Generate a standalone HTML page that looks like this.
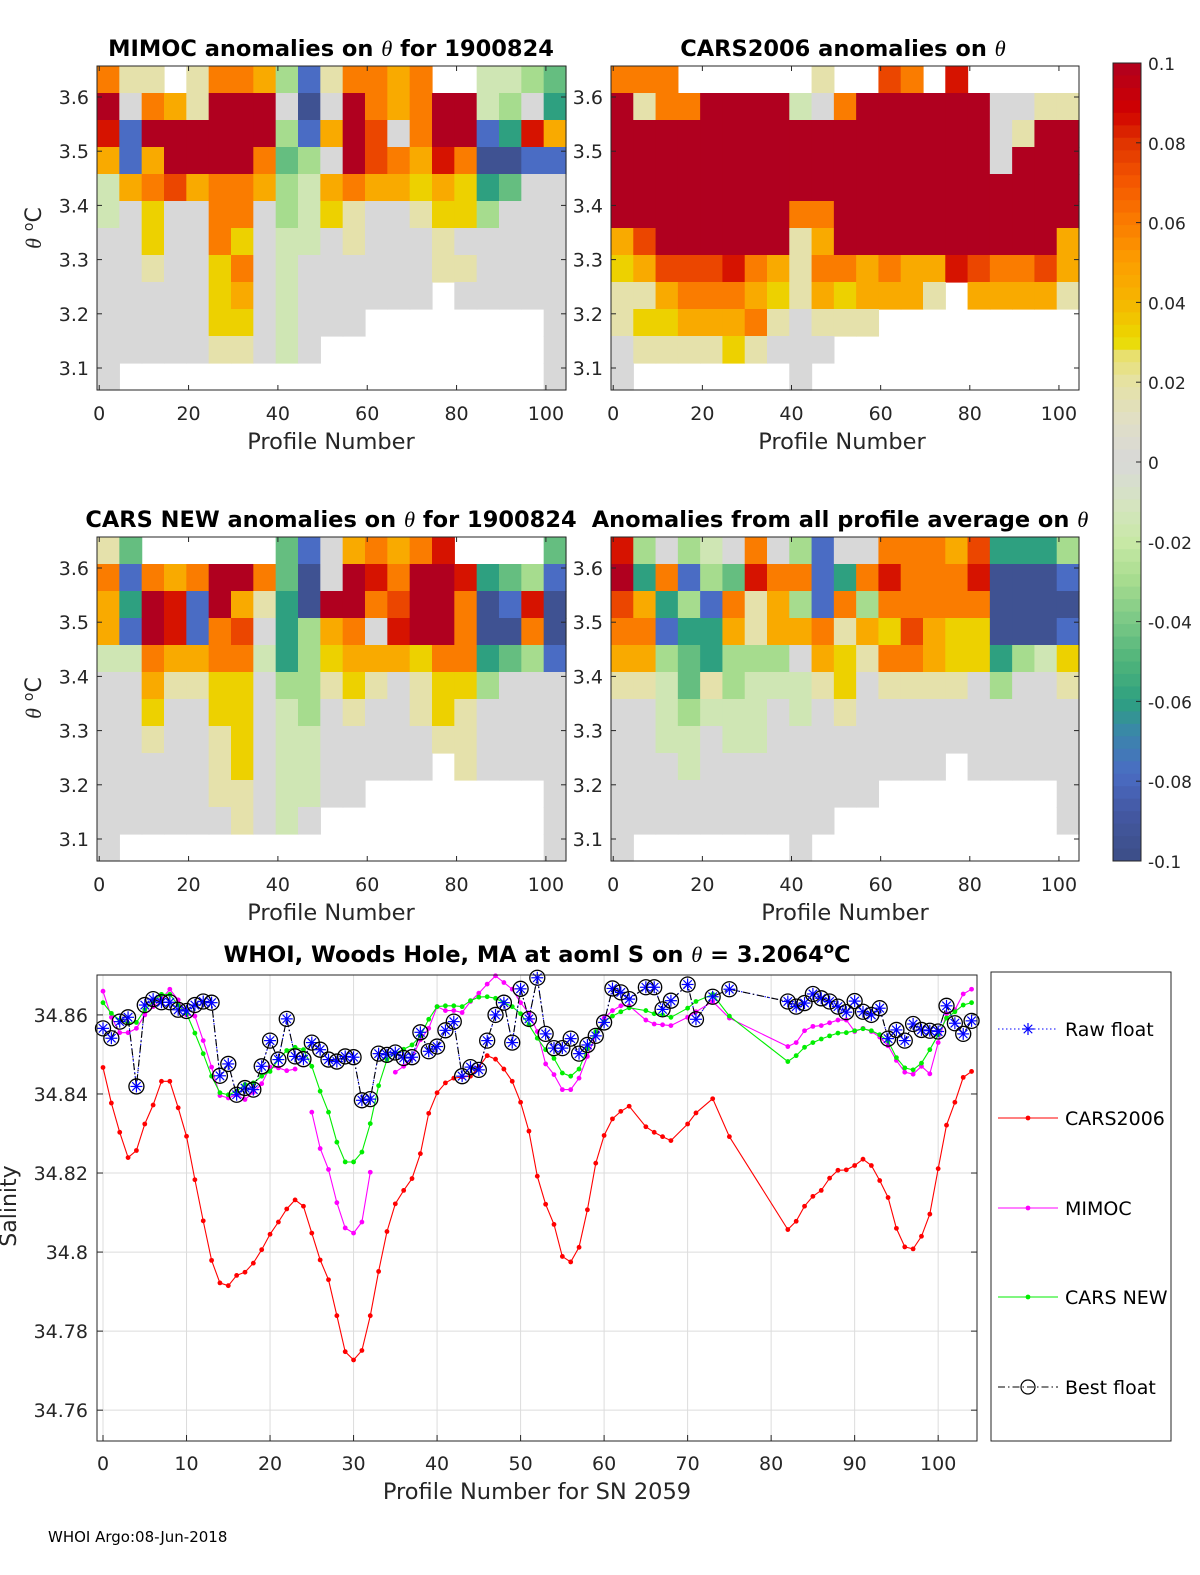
<!DOCTYPE html>
<html><head><meta charset="utf-8"><style>
html,body{margin:0;padding:0;background:#fff;}
svg{display:block;font-family:"DejaVu Sans","Liberation Sans",sans-serif;}
</style></head><body>
<svg id="fig" width="1200" height="1575" viewBox="0 0 1200 1575" xmlns="http://www.w3.org/2000/svg"></svg>
<script>
// ===== Heatmap data: 12 theta rows (top→bottom), 21 blocks of 5 profiles =====
const levelChars = ['R','r','o','O','y','Y','l','g','p','G','m','t','b','n'];
const levelValues = [0.1,0.085,0.075,0.06,0.045,0.033,0.018,0,-0.015,-0.03,-0.045,-0.06,-0.078,-0.095];
const mimocRows = [
"Oll.lOOyGblOOyO..ppGm","RgOylRRRgngROyORRpGgt","rbRRRRRRGbyRogORRbtry","ybyRRRROmGgRoOyrOnnbb",
"pyOoyOOyGpyOyyYyYtmgg","pgYggOOgGpYlgglYYGggg","ggYggOYgppglggglggggg","gglggYOgpggggggllgggg",
"gggggYygpgggggg.ggggg","gggggYYgpggg........g","gggggllgpg..........g","g...................g"];
const cars2006Rows = [
"OOO......l..oO.r.....","RlOORRRRpgORRRRRRggll","RRRRRRRRRRRRRRRRRglRR","RRRRRRRRRRRRRRRRRgRRR",
"RRRRRRRRRRRRRRRRRRRRR","RRRRRRRROORRRRRRRRRRR","yoRRRRRRlyRRRRRRRRRRy","YyooorOylOOyOyyroOOoy",
"llyOOOyYlyYyyyl.yyyyl","lYYyyyOlglll.........","gllllYlggg...........","g.......g............"];
const carsNewRows = [
"lm......mbgyOyOr....m","ObOyORROmngRrORRrtmGb","ytRrbRyltnRROoRROnbrn","ybRrbOogtGyOgrRROnnOn",
"ppOyyOOptGYyyyYOOtmGb","ggyllYYgGGlYlglYYGggg","ggYggYYgpGglgglYlgggg","gglgglYgppgggggllgggg",
"ggggglYgppggggg.lgggg","gggggllgppgg........g","gggggglgpg..........g","g...................g"];
const allAvgRows = [
"rGgGpgOgGbggOOOyotttG","RtObGmrOObtOrOOOrnnnb","oytGbOlyGbOGOOOOOnnnn","OObttylyyOlyYoyYYnnnb",
"yyGmtGGGgyYlOOyYYtGpY","llpmlGppplYgllllgGggl","ggpGpppgpglgggggggggg","ggppgppgggggggggggggg",
"gggpggggggggggg.ggggg","gggggggggggg........g","gggggggggg..........g","g.......g............"];
const heatXTicks = [0,20,40,60,80,100];
const heatYTicks = [3.1,3.2,3.3,3.4,3.5,3.6];
const cbarTicks = [0.1,0.08,0.06,0.04,0.02,0,-0.02,-0.04,-0.06,-0.08,-0.1];
const cbarLabels = ["0.1","0.08","0.06","0.04","0.02","0","-0.02","-0.04","-0.06","-0.08","-0.1"];

// ===== Salinity chart data =====
const mainProfiles = [0,1,2,3,4,5,6,7,8,9,10,11,12,13,14,15,16,17,18,19,20,21,22,23,24,25,26,27,28,29,30,31,32,33,34,35,36,37,38,39,40,41,42,43,44,45,46,47,48,49,50,51,52,53,54,55,56,57,58,59,60,61,62,63,65,66,67,68,70,71,73,75,82,83,84,85,86,87,88,89,90,91,92,93,94,95,96,97,98,99,100,101,102,103,104];
const cars2006 = [34.8467,34.8377,34.8303,34.8239,34.8257,34.8324,34.8372,34.8432,34.8432,34.8365,
34.8293,34.8183,34.8079,34.7979,34.7922,34.7915,34.7941,34.7949,34.7972,34.8006,
34.8045,34.8076,34.8109,34.8132,34.8116,34.8048,34.7980,34.7930,34.7839,34.7748,
34.7727,34.7751,34.7839,34.7951,34.8052,34.8122,34.8156,34.8186,34.8249,34.8351,
34.8403,34.8428,34.8440,34.8443,34.8445,34.8468,34.8497,34.8488,34.8463,34.8432,
34.8379,34.8306,34.8192,34.8121,34.8070,34.7989,34.7975,34.8012,34.8107,34.8225,
34.8295,34.8337,34.8356,34.8369,34.8317,34.8303,34.8292,34.8282,34.8324,34.8352,34.8388,34.8292,
34.8057,34.8078,34.8116,34.8141,34.8156,34.8187,34.8207,34.8208,34.8219,34.8235,34.8219,34.8181,34.8138,34.8060,34.8013,34.8008,34.8040,34.8096,34.8211,34.8321,34.8379,34.8442,34.8457];
const carsNew = [34.8631,34.8604,34.8587,34.8579,34.8581,34.8613,34.8634,34.8652,34.8652,34.8625,
34.8604,34.8554,34.8502,34.8445,34.8403,34.8398,34.8407,34.8424,34.8428,34.8445,
34.8457,34.8487,34.8510,34.8518,34.8512,34.8470,34.8407,34.8354,34.8278,34.8228,
34.8228,34.8253,34.8325,34.8421,34.8487,34.8503,34.8513,34.8524,34.8547,34.8589,
34.8621,34.8623,34.8623,34.8621,34.8636,34.8645,34.8646,34.8642,34.8631,34.8621,
34.8603,34.8575,34.8541,34.8512,34.8490,34.8453,34.8445,34.8463,34.8514,34.8558,
34.8583,34.8597,34.8608,34.8618,34.8611,34.8603,34.8600,34.8594,34.8617,34.8634,34.8652,34.8597,
34.8482,34.8497,34.8518,34.8530,34.8539,34.8547,34.8554,34.8555,34.8560,34.8565,34.8560,34.8550,34.8534,34.8492,34.8466,34.8461,34.8478,34.8512,34.8550,34.8592,34.8608,34.8625,34.8631];
const bestFloat = [34.8566,34.8541,34.8583,34.8594,34.8419,34.8625,34.8640,34.8632,34.8632,34.8613,
34.8610,34.8625,34.8634,34.8631,34.8446,34.8476,34.8398,34.8415,34.8411,34.8470,
34.8535,34.8487,34.8590,34.8495,34.8488,34.8530,34.8512,34.8487,34.8482,34.8495,
34.8493,34.8384,34.8387,34.8502,34.8499,34.8505,34.8491,34.8493,34.8556,34.8508,
34.8520,34.8561,34.8583,34.8445,34.8468,34.8461,34.8535,34.8600,34.8631,34.8530,
34.8666,34.8590,34.8694,34.8552,34.8516,34.8516,34.8540,34.8502,34.8524,34.8547,
34.8581,34.8667,34.8657,34.8640,34.8670,34.8670,34.8614,34.8636,34.8677,34.8589,34.8646,34.8665,
34.8634,34.8621,34.8630,34.8653,34.8642,34.8634,34.8621,34.8607,34.8635,34.8608,34.8600,34.8617,34.8540,34.8562,34.8535,34.8577,34.8562,34.8560,34.8558,34.8623,34.8579,34.8552,34.8585];
const rawFloat = bestFloat;
const mimocProfiles = [0,1,2,3,4,5,6,7,8,9,10,11,12,13,14,15,16,17,18,19,20,21,22,23,25,26,27,28,29,30,31,32,35,36,37,38,39,40,41,42,43,44,45,46,47,48,49,50,51,52,53,54,55,56,57,58,59,60,61,62,63,65,66,67,68,70,71,73,75,82,83,84,85,86,87,88,89,90,91,92,93,94,95,96,97,98,99,100,101,102,103,104];
const mimoc = [34.8660,34.8594,34.8555,34.8555,34.8566,34.8600,34.8621,34.8640,34.8665,34.8638,
34.8600,34.8597,34.8535,34.8468,34.8396,34.8390,34.8398,34.8386,34.8404,34.8426,34.8468,34.8466,34.8459,34.8463,
34.8354,34.8262,34.8209,34.8125,34.8061,34.8048,34.8076,34.8202,
34.8455,34.8470,34.8491,34.8537,34.8566,34.8621,34.8611,34.8611,34.8606,34.8634,34.8655,34.8678,34.8699,34.8682,34.8665,34.8631,34.8604,34.8558,
34.8476,34.8449,34.8411,34.8411,34.8440,34.8495,34.8550,34.8592,34.8611,34.8623,34.8623,
34.8587,34.8577,34.8575,34.8573,34.8594,34.8608,34.8634,34.8592,
34.8520,34.8530,34.8560,34.8571,34.8573,34.8580,34.8587,34.8587,34.8558,34.8566,34.8558,34.8544,34.8522,34.8485,34.8455,34.8450,34.8470,34.8451,34.8530,34.8603,34.8613,34.8653,34.8665];
const salXTicks = [0,10,20,30,40,50,60,70,80,90,100];
const salYTicks = [34.76,34.78,34.80,34.82,34.84,34.86];
const salYLabels = ["34.76","34.78","34.8","34.82","34.84","34.86"];
const legendLabels = ["Raw float","CARS2006","MIMOC","CARS NEW","Best float"];

// ===== helpers =====
const NS = "http://www.w3.org/2000/svg";
const svg = document.getElementById('fig');
function mk(tag, attrs, parent){
  const e = document.createElementNS(NS, tag);
  for (const k in attrs) e.setAttribute(k, attrs[k]);
  (parent||svg).appendChild(e);
  return e;
}
const cmapStops = [[0.1,'#b0001f'],[0.088,'#d00000'],[0.08,'#e03400'],[0.07,'#f55800'],[0.06,'#fa7c00'],[0.05,'#fc9e00'],[0.04,'#f5b600'],[0.03,'#eadc00'],[0.027,'#e8e06a'],[0.02,'#e6e2a4'],[0.01,'#e0dfc6'],[0,'#d8d8d8'],[-0.01,'#d6e4c2'],[-0.02,'#c8e8a6'],[-0.03,'#a6dc8e'],[-0.04,'#7ac886'],[-0.05,'#4fb47a'],[-0.06,'#2ea080'],[-0.068,'#3a86aa'],[-0.078,'#4a6cc4'],[-0.088,'#4458a2'],[-0.1,'#3c4e86']];
function hex(h){return [parseInt(h.substr(1,2),16),parseInt(h.substr(3,2),16),parseInt(h.substr(5,2),16)];}
function cmap(v){
  if (v>=cmapStops[0][0]) return cmapStops[0][1];
  for (let i=0;i<cmapStops.length-1;i++){
    const a=cmapStops[i], b=cmapStops[i+1];
    if (v<=a[0] && v>=b[0]){
      const t=(a[0]-v)/(a[0]-b[0]); const ca=hex(a[1]), cb=hex(b[1]);
      return 'rgb('+ca.map((c,j)=>Math.round(c+(cb[j]-c)*t)).join(',')+')';
    }
  }
  return cmapStops[cmapStops.length-1][1];
}

// ===== heatmap panel =====
function heatPanel(name, rows, x0, x1, y0, y1, title, titleX, xLabelX){
  const pmin=-0.5, pmax=104.5;
  const sx = p => x0 + (p-pmin)/(pmax-pmin)*(x1-x0);
  const topV = 3.6 + 31/542;
  const sy = v => y0 + (topV - v)*542;
  const g = mk('g', {});
  
  
  const rowH = (y1-y0)/rows.length;
  rows.forEach((row, ri) => {
    for (let k=0; k<row.length; k++){
      const ch = row[k];
      if (ch === '.') continue;
      const v = levelValues[levelChars.indexOf(ch)];
      const xa = sx(5*k-0.5), xb = sx(Math.min(5*k+4.5, pmax));
      const r = mk('rect', {x:xa.toFixed(2), y:(y0+ri*rowH).toFixed(2), width:(xb-xa+0.6).toFixed(2), height:(rowH+0.6).toFixed(2), fill:cmap(v)}, g);
      
      
    }
  });
  const box = mk('rect', {x:x0, y:y0, width:x1-x0, height:y1-y0, fill:'none', stroke:'#262626', 'stroke-width':1}, g);
  
  
  heatXTicks.forEach(t => {
    const x = sx(t);
    mk('line', {x1:x, x2:x, y1:y1, y2:y1-5, stroke:'#262626'}, g);
    mk('line', {x1:x, x2:x, y1:y0, y2:y0+5, stroke:'#262626'}, g);
    const tx = mk('text', {x:x, y:y1+30, 'font-size':19, 'text-anchor':'middle', fill:'#262626'}, g);
    tx.textContent = t;
    
    
  });
  heatYTicks.forEach(t => {
    const y = sy(t);
    mk('line', {x1:x0, x2:x0+5, y1:y, y2:y, stroke:'#262626'}, g);
    mk('line', {x1:x1, x2:x1-5, y1:y, y2:y, stroke:'#262626'}, g);
    const tx = mk('text', {x:x0-8, y:y+7, 'font-size':19, 'text-anchor':'end', fill:'#262626'}, g);
    tx.textContent = t.toFixed(1);
    
    
  });
  const tt = mk('text', {x:titleX, y:y0-10, 'font-size':22.5, 'font-weight':'bold', 'text-anchor':'middle', fill:'#000'}, g);
  tt.innerHTML = title;
  
  
  const xl = mk('text', {x:xLabelX, y:y1+59, 'font-size':22.5, 'text-anchor':'middle', fill:'#262626'}, g);
  xl.textContent = 'Profile Number';
  
  
}
const th = '<tspan font-style="italic" font-weight="normal" font-family="Liberation Serif, serif">θ</tspan>';
heatPanel('mimoc', mimocRows, 97, 566, 66, 390, 'MIMOC anomalies on '+th+'  for 1900824', 331, 331);
heatPanel('cars2006', cars2006Rows, 611, 1079, 66, 390, 'CARS2006 anomalies on '+th, 843, 842);
heatPanel('carsnew', carsNewRows, 97, 566, 537, 861, 'CARS NEW anomalies on '+th+' for 1900824', 331, 331);
heatPanel('allavg', allAvgRows, 611, 1079, 537, 861, 'Anomalies from all profile average on '+th, 840, 845);

[[228,'y-axis-title-top'],[698,'y-axis-title-middle']].forEach(([cy,nm]) => {
  const t = mk('text', {x:0, y:0, transform:'translate(41,'+cy+') rotate(-90)', 'font-size':22, 'text-anchor':'middle', fill:'#262626'});
  t.innerHTML = '<tspan font-style="italic" font-family="Liberation Serif, serif">θ</tspan> <tspan baseline-shift="super" font-size="14">o</tspan>C';
  
  
});

// ===== colorbar =====
(function(){
  const x0=1113, x1=1141, yTop=63, yBot=861;
  const sy = v => yTop + (0.1 - v)/0.2*(yBot-yTop);
  const g = mk('g', {});
  
  
  const n = 64;
  for (let i=0;i<n;i++){
    const vTop = 0.1 - i*0.2/n, vMid = vTop - 0.1/n;
    mk('rect', {x:x0, y:sy(vTop), width:x1-x0, height:(yBot-yTop)/n+0.5, fill:cmap(vMid)}, g);
  }
  mk('rect', {x:x0, y:yTop, width:x1-x0, height:yBot-yTop, fill:'none', stroke:'#262626'}, g);
  cbarTicks.forEach((t,i) => {
    const y = sy(t);
    mk('line', {x1:x1, x2:x1-5, y1:y, y2:y, stroke:'#262626'}, g);
    const tx = mk('text', {x:1148, y:y+7, 'font-size':17, fill:'#262626'}, g);
    tx.textContent = cbarLabels[i];
    
    
  });
})();

// ===== salinity chart =====
(function(){
  const x0=97, x1=977, y0=975, y1=1441;
  const pmin=-0.72, pmax=104.65, vmax=34.8701, vmin=34.7522;
  const sx = p => x0 + (p-pmin)/(pmax-pmin)*(x1-x0);
  const sy = v => y0 + (vmax - v)/(vmax-vmin)*(y1-y0);
  const g = mk('g', {});
  
  
  salXTicks.forEach(t => {
    const x = sx(t);
    mk('line', {x1:x, x2:x, y1:y0, y2:y1, stroke:'#dcdcdc'}, g);
    mk('line', {x1:x, x2:x, y1:y1, y2:y1-6, stroke:'#262626'}, g);
    const tx = mk('text', {x:x, y:y1+29, 'font-size':19, 'text-anchor':'middle', fill:'#262626'}, g);
    tx.textContent = t;
    
    
  });
  salYTicks.forEach((t,i) => {
    const y = sy(t);
    mk('line', {x1:x0, x2:x1, y1:y, y2:y, stroke:'#dcdcdc'}, g);
    mk('line', {x1:x0, x2:x0+6, y1:y, y2:y, stroke:'#262626'}, g);
    mk('line', {x1:x1, x2:x1-6, y1:y, y2:y, stroke:'#262626'}, g);
    const tx = mk('text', {x:x0-9, y:y+7, 'font-size':19, 'text-anchor':'end', fill:'#262626'}, g);
    tx.textContent = salYLabels[i];
    
    
  });
  function line(xs, vs, color, dash, name){
    const pts = xs.map((p,i)=>sx(p).toFixed(1)+','+sy(vs[i]).toFixed(1)).join(' ');
    const l = mk('polyline', {points:pts, fill:'none', stroke:color, 'stroke-width':1.1, 'stroke-dasharray':dash||'none'}, g);
    
    
  }
  function dots(xs, vs, color, name){
    xs.forEach((p,i)=>{
      const c = mk('circle', {cx:sx(p), cy:sy(vs[i]), r:2.4, fill:color}, g);
      
      
    });
  }
  line(mainProfiles, cars2006, '#ff0000', null, 'cars2006-line');
  dots(mainProfiles, cars2006, '#ff0000', 'cars2006-point');
  const segs = [[0,24],[24,32],[32,mimocProfiles.length]];
  segs.forEach(([a,b]) => line(mimocProfiles.slice(a,b), mimoc.slice(a,b), '#ff00ff', null, 'mimoc-line'));
  dots(mimocProfiles, mimoc, '#ff00ff', 'mimoc-point');
  line(mainProfiles, carsNew, '#00ee00', null, 'cars-new-line');
  dots(mainProfiles, carsNew, '#00ee00', 'cars-new-point');
  line(mainProfiles, rawFloat, '#0000ff', '1.5,2.5', 'raw-float-line');
  line(mainProfiles, bestFloat, '#000000', '7,3,1.5,3', 'best-float-line');
  function star(cx, cy, s, parent){
    for (let a=0;a<4;a++){
      const ang = a*Math.PI/4;
      mk('line', {x1:cx-s*Math.cos(ang), y1:cy-s*Math.sin(ang), x2:cx+s*Math.cos(ang), y2:cy+s*Math.sin(ang), stroke:'#0000ff', 'stroke-width':1.2}, parent);
    }
  }
  mainProfiles.forEach((p,i)=>{
    const cx = sx(p), cy = sy(bestFloat[i]);
    const c = mk('circle', {cx:cx, cy:cy, r:7.5, fill:'none', stroke:'#000', 'stroke-width':1.3}, g);
    
    
    const sg = mk('g', {}, g);
    
    
    star(sx(p), sy(rawFloat[i]), 6, sg);
  });
  const box = mk('rect', {x:x0, y:y0, width:x1-x0, height:y1-y0, fill:'none', stroke:'#262626'}, g);
  
  
  const tt = mk('text', {x:537, y:962, 'font-size':22.5, 'font-weight':'bold', 'text-anchor':'middle', fill:'#000'}, g);
  tt.innerHTML = 'WHOI, Woods Hole, MA at aoml S on '+th+' = 3.2064<tspan baseline-shift="super" font-size="15">o</tspan>C';
  
  
  const xl = mk('text', {x:537, y:1499, 'font-size':22.5, 'text-anchor':'middle', fill:'#262626'}, g);
  xl.textContent = 'Profile Number for SN 2059';
  
  
  const yl = mk('text', {x:0, y:0, transform:'translate(16,1206) rotate(-90)', 'font-size':22, 'text-anchor':'middle', fill:'#262626'}, g);
  yl.textContent = 'Salinity';
  
  

  const lg = mk('g', {});
  
  
  mk('rect', {x:991, y:972, width:180, height:469, fill:'#fff', stroke:'#262626'}, lg);
  const ly = [1029, 1118, 1208, 1297, 1387];
  const styles = [['#0000ff','1.5,2.5'],['#ff0000',null],['#ff00ff',null],['#00ee00',null],['#000','7,3,1.5,3']];
  legendLabels.forEach((lab,i)=>{
    const e = mk('g', {}, lg);
    
    
    mk('line', {x1:998, x2:1058, y1:ly[i], y2:ly[i], stroke:styles[i][0], 'stroke-width':1.1, 'stroke-dasharray':styles[i][1]||'none'}, e);
    if (i===0) star(1028, ly[i], 6, e);
    else if (i===4) mk('circle', {cx:1028, cy:ly[i], r:7, fill:'none', stroke:'#000', 'stroke-width':1.2}, e);
    else mk('circle', {cx:1028, cy:ly[i], r:2.4, fill:styles[i][0]}, e);
    const t = mk('text', {x:1065, y:ly[i]+7, 'font-size':19, fill:'#000'}, e);
    t.textContent = lab;
  });
})();

const foot = mk('text', {x:48, y:1542, 'font-size':15, fill:'#000'});
foot.textContent = 'WHOI Argo:08-Jun-2018';


</script>
</body></html>
